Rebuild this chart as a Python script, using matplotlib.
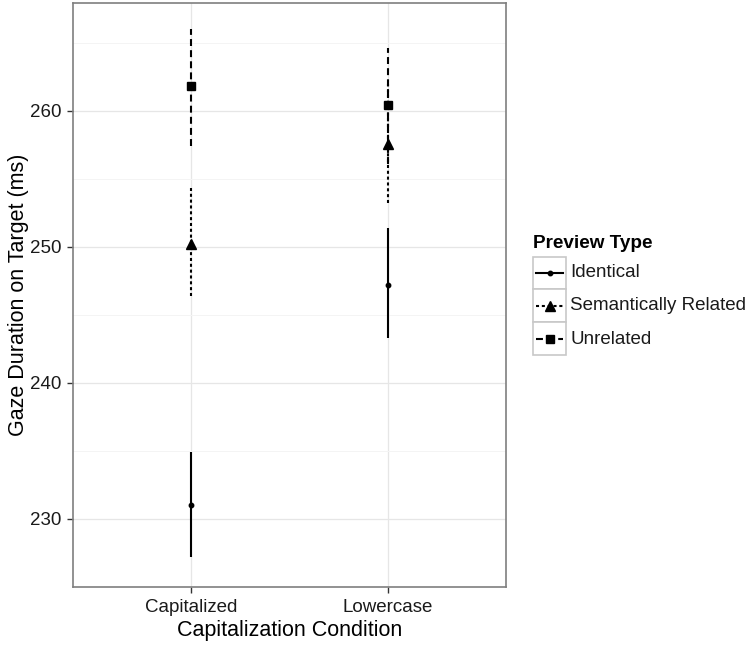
import numpy as np
import matplotlib
matplotlib.use("Agg")
import matplotlib.pyplot as plt
from matplotlib.patches import Rectangle

plt.rcParams['font.family'] = ['Liberation Sans', 'DejaVu Sans']
plt.rcParams['lines.scale_dashes'] = False

# datos
condiciones = ['Capitalized', 'Lowercase']
tipos = ['Identical', 'Semantically Related', 'Unrelated']

media_identical = [231.0, 247.2]
media_semantic = [250.2, 257.6]
media_unrelated = [261.8, 260.4]

bajo_identical = [227.2, 243.3]
bajo_semantic = [246.4, 253.2]
bajo_unrelated = [257.4, 256.1]

alto_identical = [234.9, 251.4]
alto_semantic = [254.3, 262.0]
alto_unrelated = [266.0, 264.6]

y_ticks = [230, 240, 250, 260]

# estilos por tipo de preview
estilos = {
    'Identical': dict(ls='-', marker='o', ms=3.2),
    'Semantically Related': dict(ls=(0, (2.2, 2.0)), marker='^', ms=6.5),
    'Unrelated': dict(ls=(0, (5.0, 3.0)), marker='s', ms=5.5),
}
medias = {'Identical': media_identical, 'Semantically Related': media_semantic,
          'Unrelated': media_unrelated}
bajos = {'Identical': bajo_identical, 'Semantically Related': bajo_semantic,
         'Unrelated': bajo_unrelated}
altos = {'Identical': alto_identical, 'Semantically Related': alto_semantic,
         'Unrelated': alto_unrelated}

fig = plt.figure(figsize=(7.5, 6.45), dpi=100)
ax = fig.add_axes([73 / 750, 1 - 586.7 / 645, (505.7 - 73) / 750, (586.7 - 3) / 645])

x = np.arange(1, len(condiciones) + 1)
for t in tipos:
    st = estilos[t]
    ax.vlines(x, bajos[t], altos[t], colors='black', linewidth=1.5, linestyles=[st['ls']])
    ax.plot(x, medias[t], linestyle='none', marker=st['marker'], ms=st['ms'],
            color='black', zorder=3)

ax.set_xlim(0.4, 2.6)
ax.set_ylim(225.26, 267.94)
ax.set_xticks(x)
ax.set_xticklabels(condiciones)
ax.set_yticks(y_ticks)
ax.set_yticks([225, 235, 245, 255, 265], minor=True)
ax.tick_params(axis='y', which='minor', length=0)
ax.tick_params(axis='both', which='major', length=4.5, width=1, color='#333333',
               labelsize=13.5, labelcolor='#1a1a1a', pad=4)
ax.grid(True, which='major', color='#e6e6e6', linewidth=0.9)
ax.grid(True, which='minor', axis='y', color='#f4f4f4', linewidth=0.7)
ax.set_axisbelow(True)
for s in ax.spines.values():
    s.set_color('#7f7f7f')
    s.set_linewidth(1.2)

ax.set_xlabel('Capitalization Condition', fontsize=15.5, labelpad=3)
ax.set_ylabel('Gaze Duration on Target (ms)', fontsize=15.5, va='center')
ax.yaxis.set_label_coords(-55 / 432.7, 0.5)

# leyenda dibujada a mano con cajas como ggplot
fig.text(533 / 750, 1 - 243 / 645, 'Preview Type', fontsize=13.6, fontweight='bold',
         va='center', ha='left')
lax = fig.add_axes([533 / 750, 1 - 355 / 645, 33 / 750, (355 - 256.7) / 645])
lax.set_xlim(0, 1)
lax.set_ylim(0, 3)
lax.axis('off')
for i, t in enumerate(tipos):
    yc = 2.5 - i
    lax.add_patch(Rectangle((0, yc - 0.5), 1, 1, facecolor='white', edgecolor='#c8c8c8',
                            linewidth=1.2, clip_on=False))
    st = estilos[t]
    lax.plot([0.1, 0.9], [yc, yc], color='black', linewidth=1.5, linestyle=st['ls'])
    lax.plot([0.5], [yc], marker=st['marker'], ms=st['ms'], color='black', linestyle='none')
    fig.text(570 / 750, 1 - (273 + 33 * i) / 645, t, fontsize=13.5, va='center',
             ha='left', color='#1a1a1a')

fig.savefig('out.png', dpi=100)
